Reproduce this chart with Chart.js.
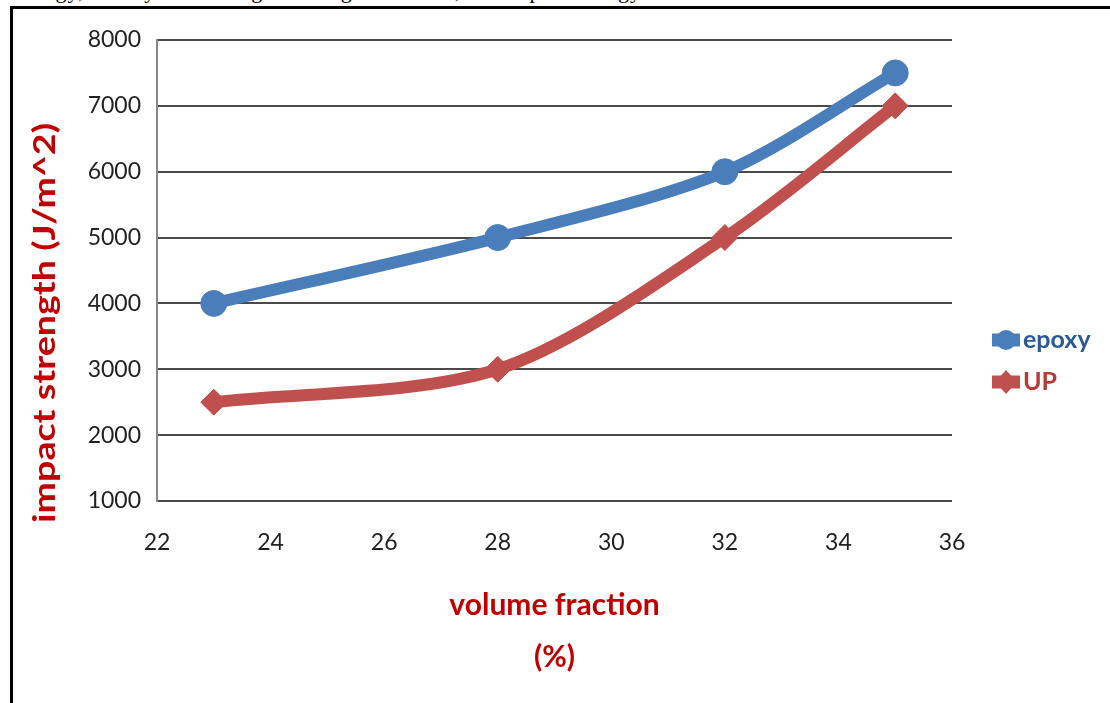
<!DOCTYPE html>
<html>
<head>
<meta charset="utf-8">
<script src="https://cdn.jsdelivr.net/npm/chart.js@4/dist/chart.umd.min.js"></script>
<style>
body{margin:0;background:#fff;}
#wrap{position:relative;width:1110px;height:703px;overflow:hidden;background:#fff;}
#cut{position:absolute;left:14px;top:-22px;font-family:"Liberation Serif",serif;font-size:22px;color:#000;white-space:nowrap;letter-spacing:1px;}
#frame{position:absolute;left:10px;top:6px;width:1200px;height:760px;border-left:3px solid #000;border-top:3px solid #000;box-sizing:border-box;background:transparent;}
canvas{position:absolute;left:0;top:0;}
</style>
</head>
<body>
<div id="wrap">
<div id="cut">energy, and by increasing the weight fraction, the impact energy</div>
<div id="frame"></div>
<canvas id="chart" width="1110" height="703"></canvas>
</div>
<script>
let volumeFraction=[23,28,32,35];
let epoxyValues=[4000,5000,6000,7500];
let upValues=[2500,3000,5000,7000];
let seriesNames=["epoxy","UP"];
let yTitle="impact strength (J/m^2)";
let xTitle=["volume fraction","(%)"];

let blue="#4A7EBB";
let red="#C0504D";

function points(values){
return volumeFraction.map((x,i)=>({x:x,y:values[i]}));
}

// excel style legend + rotated y title
let extras={
id:"extras",
afterDraw(chart){
let ctx=chart.ctx;
ctx.save();
ctx.translate(45,323);
ctx.rotate(-Math.PI/2);
ctx.fillStyle="#C00000";
ctx.font="bold 30px Lato";
ctx.textAlign="center";
ctx.textBaseline="middle";
let w=ctx.measureText(yTitle).width;
ctx.scale(400/w,1);
ctx.fillText(yTitle,0,0);
ctx.restore();

let rows=[340,382];
let textColors=["#2A5A96","#B83A36"];
chart.data.datasets.forEach((ds,i)=>{
let y=rows[i];
ctx.save();
ctx.strokeStyle=ds.borderColor;
ctx.lineWidth=13;
ctx.beginPath();
ctx.moveTo(992,y);
ctx.lineTo(1020,y);
ctx.stroke();
ctx.fillStyle=ds.borderColor;
ctx.beginPath();
if(ds.pointStyle==="circle"){
ctx.arc(1006,y,10,0,Math.PI*2);
}else{
ctx.moveTo(1006,y-12);
ctx.lineTo(1017,y);
ctx.lineTo(1006,y+12);
ctx.lineTo(995,y);
ctx.closePath();
}
ctx.fill();
ctx.fillStyle=textColors[i];
ctx.font="bold 25px Lato";
ctx.textAlign="left";
ctx.textBaseline="middle";
ctx.fillText(ds.label,1023,y);
ctx.restore();
});
}
};

let ctx=document.getElementById("chart").getContext("2d");

let chart=new Chart(ctx,{
type:"line",
data:{
datasets:[
{label:seriesNames[0],data:points(epoxyValues),borderColor:blue,backgroundColor:blue,borderWidth:12,pointStyle:"circle",pointRadius:13,pointBorderWidth:1,tension:0.3},
{label:seriesNames[1],data:points(upValues),borderColor:red,backgroundColor:red,borderWidth:12,pointStyle:"rectRot",pointRadius:13,pointBorderWidth:1,tension:0.3}
]
},
options:{
responsive:false,
devicePixelRatio:1,
animation:false,
layout:{padding:{top:40,right:158,left:0,bottom:0}},
plugins:{legend:{display:false},tooltip:{enabled:false}},
scales:{
x:{
type:"linear",
min:22,max:36,
afterFit(scale){scale.height=202;},
ticks:{stepSize:2,color:"#222",font:{family:"Lato",size:23},padding:28,callback:(v)=>String(v)},
grid:{display:false,drawTicks:false},
border:{display:false},
title:{display:true,text:xTitle,color:"#C00000",font:{family:"Lato",size:30,weight:"bold",lineHeight:1.73},padding:{bottom:20,top:0}}
},
y:{
min:1000,max:8000,
afterFit(scale){scale.width=157;},
ticks:{stepSize:1000,color:"#222",font:{family:"Lato",size:23},padding:16,callback:(v)=>String(v)},
grid:{color:"#4a4a4a",lineWidth:2,drawTicks:false},
border:{display:true,color:"#888",width:2}
}
}
},
plugins:[extras]
});
</script>
</body>
</html>
